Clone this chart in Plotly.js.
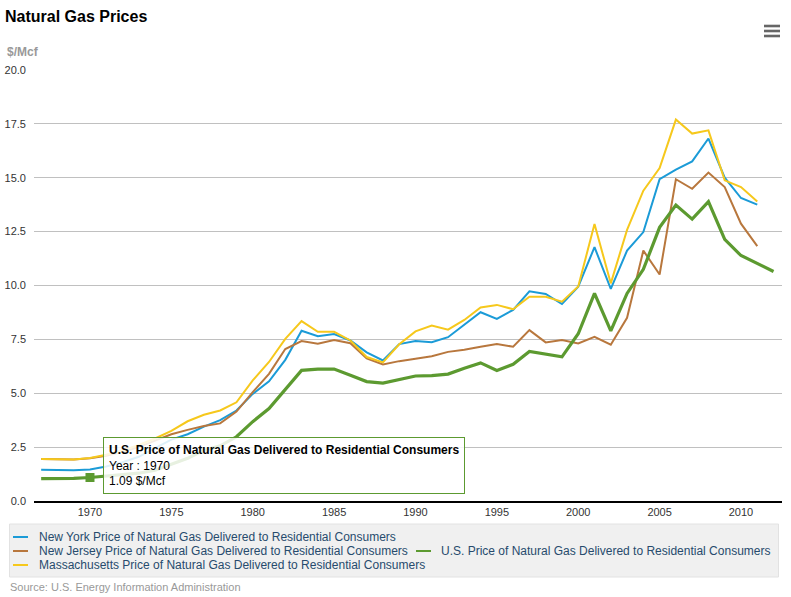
<!DOCTYPE html>
<html>
<head>
<meta charset="utf-8">
<script src="https://cdn.plot.ly/plotly-3.0.1.min.js"></script>
<style>
html,body{margin:0;padding:0;background:#fff;}
#chart{width:791px;height:597px;}
</style>
</head>
<body>
<div id="chart"></div>
<script>
// ---- Data ($/Mcf) ----
const years = [1967,1968,1969,1970,1971,1972,1973,1974,1975,1976,1977,1978,1979,1980,1981,1982,1983,1984,1985,1986,1987,1988,1989,1990,1991,1992,1993,1994,1995,1996,1997,1998,1999,2000,2001,2002,2003,2004,2005,2006,2007,2008,2009,2010,2011,2012];
const newYork = [1.45,1.43,1.43,1.46,1.60,1.80,2.05,2.45,2.85,3.10,3.45,3.75,4.20,4.97,5.55,6.55,7.90,7.65,7.75,7.45,6.90,6.52,7.28,7.42,7.37,7.60,8.18,8.76,8.45,8.87,9.73,9.61,9.14,9.95,11.78,9.84,11.62,12.48,14.93,15.38,15.76,16.82,15.00,14.06,13.75];
const newJersey = [1.95,1.95,1.93,1.98,2.10,2.28,2.50,2.80,3.10,3.30,3.48,3.60,4.15,5.05,5.90,7.05,7.42,7.30,7.47,7.32,6.62,6.34,6.49,6.60,6.72,6.92,7.02,7.16,7.28,7.16,7.93,7.36,7.47,7.31,7.62,7.25,8.50,11.62,10.51,14.93,14.49,15.24,14.57,12.87,11.83];
const usPrice = [1.04,1.04,1.05,1.09,1.15,1.21,1.29,1.43,1.71,1.98,2.35,2.56,2.98,3.68,4.29,5.17,6.06,6.12,6.12,5.83,5.54,5.47,5.64,5.80,5.82,5.89,6.16,6.41,6.06,6.34,6.94,6.82,6.69,7.76,9.63,7.89,9.63,10.75,12.70,13.73,13.08,13.89,12.14,11.39,11.03,10.65];
const massachusetts = [1.95,1.93,1.93,2.00,2.15,2.35,2.60,2.90,3.25,3.70,4.00,4.20,4.58,5.60,6.45,7.52,8.35,7.85,7.85,7.45,6.68,6.43,7.27,7.87,8.14,7.95,8.40,8.98,9.10,8.90,9.48,9.48,9.25,9.95,12.85,10.10,12.58,14.40,15.45,17.70,17.05,17.20,14.88,14.57,13.90];
const seriesNames = [
  "New York Price of Natural Gas Delivered to Residential Consumers",
  "New Jersey Price of Natural Gas Delivered to Residential Consumers",
  "U.S. Price of Natural Gas Delivered to Residential Consumers",
  "Massachusetts Price of Natural Gas Delivered to Residential Consumers"
];
const xTicks = [1970,1975,1980,1985,1990,1995,2000,2005,2010];
const yTicks = [0,2.5,5,7.5,10,12.5,15,17.5,20];
const hoverYear = 1970;

// ---- Style ----
const colors = ["#1b9bd7", "#b8773d", "#5c9a30", "#f6c81c"];
const FONT = "Liberation Sans, Arial, Helvetica, sans-serif";
const W = 791, H = 597;
const M = {l:34, r:9, t:70, b:96};
const PW = W - M.l - M.r, PH = H - M.t - M.b;
const px = v => (v - M.l) / PW;          // pixel x -> paper
const py = v => (H - M.b - v) / PH;      // pixel y -> paper

const traces = [
  {x: years.slice(0, newYork.length), y: newYork, name: seriesNames[0], line:{color:colors[0], width:2}},
  {x: years.slice(0, newJersey.length), y: newJersey, name: seriesNames[1], line:{color:colors[1], width:2}},
  {x: years, y: usPrice, name: seriesNames[2], line:{color:colors[2], width:3.2}},
  {x: years.slice(0, massachusetts.length), y: massachusetts, name: seriesNames[3], line:{color:colors[3], width:2}}
].map(t => Object.assign({type:'scatter', mode:'lines', hoverinfo:'skip', showlegend:false}, t));

const hi = years.indexOf(hoverYear);
traces.push({type:'scatter', mode:'markers', x:[years[hi]], y:[usPrice[hi]], showlegend:false, hoverinfo:'skip',
  marker:{symbol:'square', size:9, color:colors[2]}});

// Legend (Highcharts style, manual rows)
const legendRows = [
  {i:0, kx:13, tx:37, y:537},
  {i:1, kx:13, tx:37, y:551},
  {i:2, kx:416, tx:439, y:551},
  {i:3, kx:13, tx:37, y:565}
];
const shapes = [
  {type:'rect', xref:'paper', yref:'paper', x0:px(9.5), x1:px(778.5), y0:py(524), y1:py(577),
   fillcolor:'#f0f0f0', line:{color:'#e2e2e2', width:1}, layer:'below'}
];
legendRows.forEach(r => shapes.push({type:'line', xref:'paper', yref:'paper',
  x0:px(r.kx), x1:px(r.kx+15), y0:py(r.y), y1:py(r.y), line:{color:colors[r.i], width:2}}));
// menu icon
[26, 31, 36].forEach(yy => shapes.push({type:'rect', xref:'paper', yref:'paper',
  x0:px(764), x1:px(780), y0:py(yy-1.3), y1:py(yy+1.3), fillcolor:'#666', line:{width:0}}));

const annotations = legendRows.map(r => ({xref:'paper', yref:'paper', x:px(r.tx), y:py(r.y),
  xanchor:'left', yanchor:'middle', showarrow:false, text:seriesNames[r.i],
  font:{family:FONT, size:12, color:'#274b6d'}}));
annotations.push({xref:'paper', yref:'paper', x:px(5), y:py(52), xanchor:'left', yanchor:'middle',
  showarrow:false, text:'<b>$/Mcf</b>', font:{family:FONT, size:12, color:'#999'}});
annotations.push({xref:'paper', yref:'paper', x:px(8), y:py(587), xanchor:'left', yanchor:'middle',
  showarrow:false, text:'Source: U.S. Energy Information Administration', font:{family:FONT, size:11, color:'#999'}});
annotations.push({xref:'paper', yref:'paper', x:px(103), y:py(437), xanchor:'left', yanchor:'top',
  showarrow:false, align:'left', borderpad:5, borderwidth:1, bordercolor:colors[2],
  bgcolor:'rgba(255,255,255,0.85)',
  text:'<b>' + seriesNames[2] + '</b><br>Year : ' + years[hi] + '<br>' + usPrice[hi].toFixed(2) + ' $/Mcf',
  font:{family:FONT, size:12, color:'#000'}});

const layout = {
  width:W, height:H, margin:M, paper_bgcolor:'#fff', plot_bgcolor:'#fff',
  font:{family:FONT, size:11, color:'#333'},
  title:{text:'<b>Natural Gas Prices</b>', x:5/W, xanchor:'left', xref:'container',
         y:1-16/H, yanchor:'middle', yref:'container', font:{family:FONT, size:16, color:'#000'}},
  xaxis:{range:[1966.56, 2012.52], tickvals:xTicks, ticktext:xTicks.map(String), showgrid:false,
         zeroline:false, showline:true, linecolor:'#000', linewidth:2, ticks:'',
         tickfont:{family:FONT, size:11, color:'#333'}},
  yaxis:{range:[0,20], tickvals:yTicks, ticktext:yTicks.map(v => v.toFixed(1)), showgrid:true,
         gridcolor:'#c0c0c0', gridwidth:1, zeroline:false, showline:false, ticks:'',
         tickfont:{family:FONT, size:11, color:'#333'}, ticklabelstandoff:7},
  shapes:shapes, annotations:annotations, showlegend:false, hovermode:false
};

Plotly.newPlot('chart', traces, layout, {displayModeBar:false, staticPlot:true});
</script>
</body>
</html>
